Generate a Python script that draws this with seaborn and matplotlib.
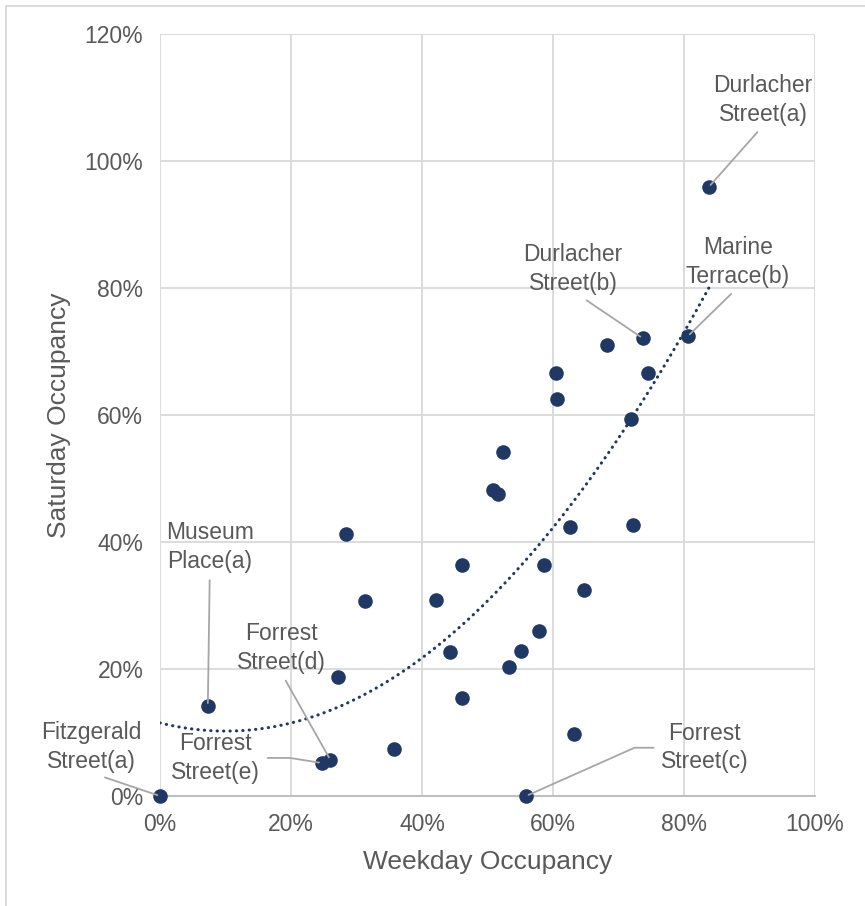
import numpy as np
import pandas as pd
import seaborn as sns
import matplotlib.pyplot as plt
from matplotlib.patches import Rectangle
from matplotlib.ticker import PercentFormatter

weekday = [83.8, 73.7, 80.6, 68.2, 60.5, 74.5, 60.6, 71.9, 52.4, 50.8, 51.6,
           62.6, 72.2, 28.4, 46.1, 58.6, 64.7, 31.3, 42.1, 57.9, 55.1, 44.3,
           53.3, 27.2, 46.1, 7.3, 63.2, 35.7, 26.0, 24.7, 0.0, 55.9]
saturday = [95.9, 72.1, 72.4, 71.0, 66.6, 66.6, 62.5, 59.4, 54.2, 48.2, 47.6,
            42.4, 42.7, 41.3, 36.4, 36.4, 32.4, 30.7, 30.9, 26.0, 22.8, 22.7,
            20.3, 18.7, 15.4, 14.2, 9.8, 7.4, 5.7, 5.2, 0.0, 0.0]

# labelled points: (text, point index, label x, label y, relpos, connection)
labels = [
    ("Durlacher\nStreet(a)", 0, 92.1, 109.6, (0.5, 0), "arc3"),
    ("Durlacher\nStreet(b)", 1, 63.1, 83.0, (0.55, 0), "arc3"),
    ("Marine\nTerrace(b)", 2, 88.2, 84.1, (0.5, 0), "arc3"),
    ("Museum\nPlace(a)", 25, 7.6, 39.2, (0.5, 0), "arc3"),
    ("Forrest\nStreet(d)", 28, 18.6, 23.3, (0.5, 0), "arc3"),
    ("Forrest\nStreet(e)", 29, 8.5, 6.0, (1, 0.5), "angle,angleA=0,angleB=-9,rad=0"),
    ("Fitzgerald\nStreet(a)", 30, -10.5, 7.7, (0.5, 0), "arc3"),
    ("Forrest\nStreet(c)", 31, 83.2, 7.6, (0, 0.5), "angle,angleA=0,angleB=24,rad=0"),
]

df = pd.DataFrame({"Weekday": weekday, "Saturday": saturday})

sns.set_style("white")
plt.rcParams['font.family'] = ['Liberation Sans', 'DejaVu Sans']
grey = "#595959"
navy = "#1F3864"

fig = plt.figure(figsize=(8.65, 9.06), dpi=100)
ax = fig.add_axes([0.185, 0.1214, 0.757, 0.8411])

# polynomial (order 2) trendline
coef = np.polyfit(df["Weekday"], df["Saturday"], 2)
xs = np.linspace(0, df["Weekday"].max(), 200)
ax.plot(xs, np.polyval(coef, xs), color=navy, lw=2.2,
        linestyle=(0, (0.1, 2.0)), dash_capstyle="round", zorder=2)

sns.scatterplot(data=df, x="Weekday", y="Saturday", ax=ax, s=110,
                color=navy, edgecolor=navy, linewidth=0, zorder=3, clip_on=False)

for text, i, lx, ly, rp, cs in labels:
    ax.annotate(text, xy=(weekday[i], saturday[i]), xytext=(lx, ly),
                ha="center", va="center", fontsize=16.5, color=grey,
                linespacing=1.3, annotation_clip=False,
                arrowprops=dict(arrowstyle="-", color="#A6A6A6", lw=1.3,
                                relpos=rp, shrinkA=3, shrinkB=2,
                                connectionstyle=cs))

ax.set_xlim(0, 100)
ax.set_ylim(0, 120)
ax.set_xticks(range(0, 101, 20))
ax.set_yticks(range(0, 121, 20))
ax.xaxis.set_major_formatter(PercentFormatter(decimals=0))
ax.yaxis.set_major_formatter(PercentFormatter(decimals=0))
ax.grid(True, color="#D9D9D9", lw=1.3)
ax.set_axisbelow(True)
ax.tick_params(length=0, labelsize=16.5, labelcolor=grey, pad=12)
for side in ["top", "right", "left"]:
    ax.spines[side].set_visible(False)
ax.spines["bottom"].set_color("#BFBFBF")
ax.spines["bottom"].set_linewidth(1.5)

ax.set_xlabel("Weekday Occupancy", fontsize=19, color=grey, labelpad=10)
ax.set_ylabel("Saturday Occupancy", fontsize=19, color=grey, labelpad=10)

fig.patches.append(Rectangle((6 / 865, -0.1), 1.2, 1.1 - 6 / 906,
                             transform=fig.transFigure, fill=False,
                             edgecolor="#D9D9D9", lw=1.3, clip_on=False))

fig.savefig("out.png", dpi=100)
